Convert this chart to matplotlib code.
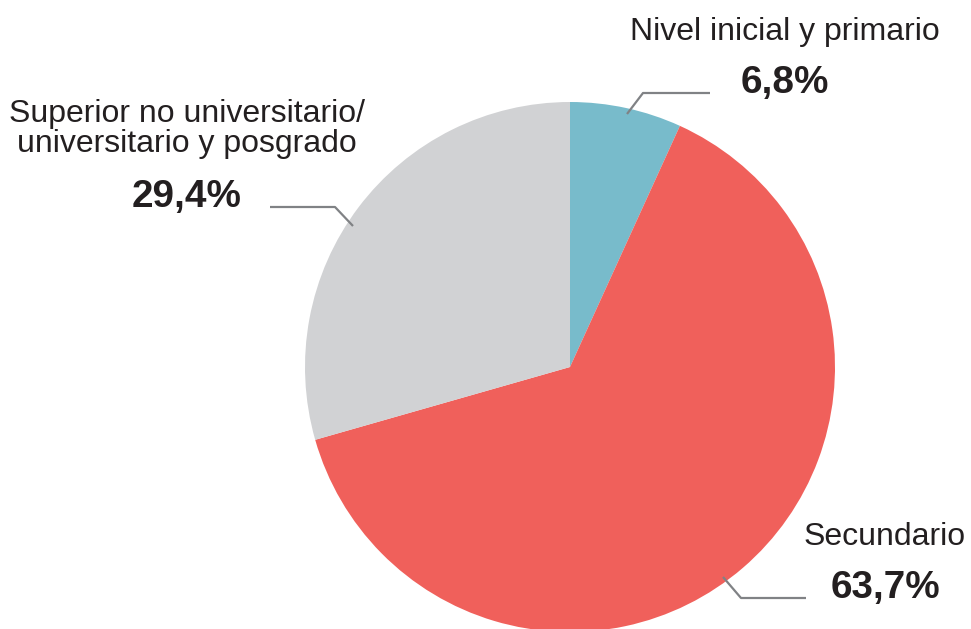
import numpy as np
import matplotlib
matplotlib.use("Agg")
import matplotlib.pyplot as plt

# Data
labels = ["Nivel inicial y primario", "Secundario",
          "Superior no universitario/\nuniversitario y posgrado"]
values = [6.8, 63.7, 29.4]
pct_text = ["6,8%", "63,7%", "29,4%"]
colors = ["#78BBCB", "#F0605B", "#D1D2D4"]

W, H = 971, 629
plt.rcParams["font.family"] = ["Liberation Sans", "DejaVu Sans"]

fig = plt.figure(figsize=(W / 100, H / 100), dpi=100)
ax = fig.add_axes([0, 0, 1, 1])

cx, cy, R = 570, 367, 265
ax.pie(values, colors=colors, startangle=90, counterclock=False,
       center=(cx, H - cy), radius=R, wedgeprops=dict(linewidth=0))
ax.set_xlim(0, W)
ax.set_ylim(0, H)
ax.set_aspect("equal")
ax.axis("off")

txt_col = "#231F20"
line_col = "#808285"

# label layout: (x center, name baseline, pct baseline, leader points)
layout = [
    (785, 40, 93, [(627, 114), (643, 93), (710, 93)]),
    (885, 545, 598, [(723, 577), (741, 598), (806, 598)]),
    (187, 152, 207, [(353, 226), (335, 207), (270, 207)]),
]

for lab, pct, (x, yb, yp, pts) in zip(labels, pct_text, layout):
    ax.text(x, H - yb, lab, ha="center", va="baseline", fontsize=23,
            color=txt_col, linespacing=1.0, multialignment="center")
    ax.text(x, H - yp, pct, ha="center", va="baseline", fontsize=27.8,
            fontweight="bold", color=txt_col)
    px = [p[0] for p in pts]
    py = [H - p[1] for p in pts]
    ax.plot(px, py, color=line_col, lw=1.6, solid_capstyle="butt")

fig.savefig("out.png", dpi=100)
